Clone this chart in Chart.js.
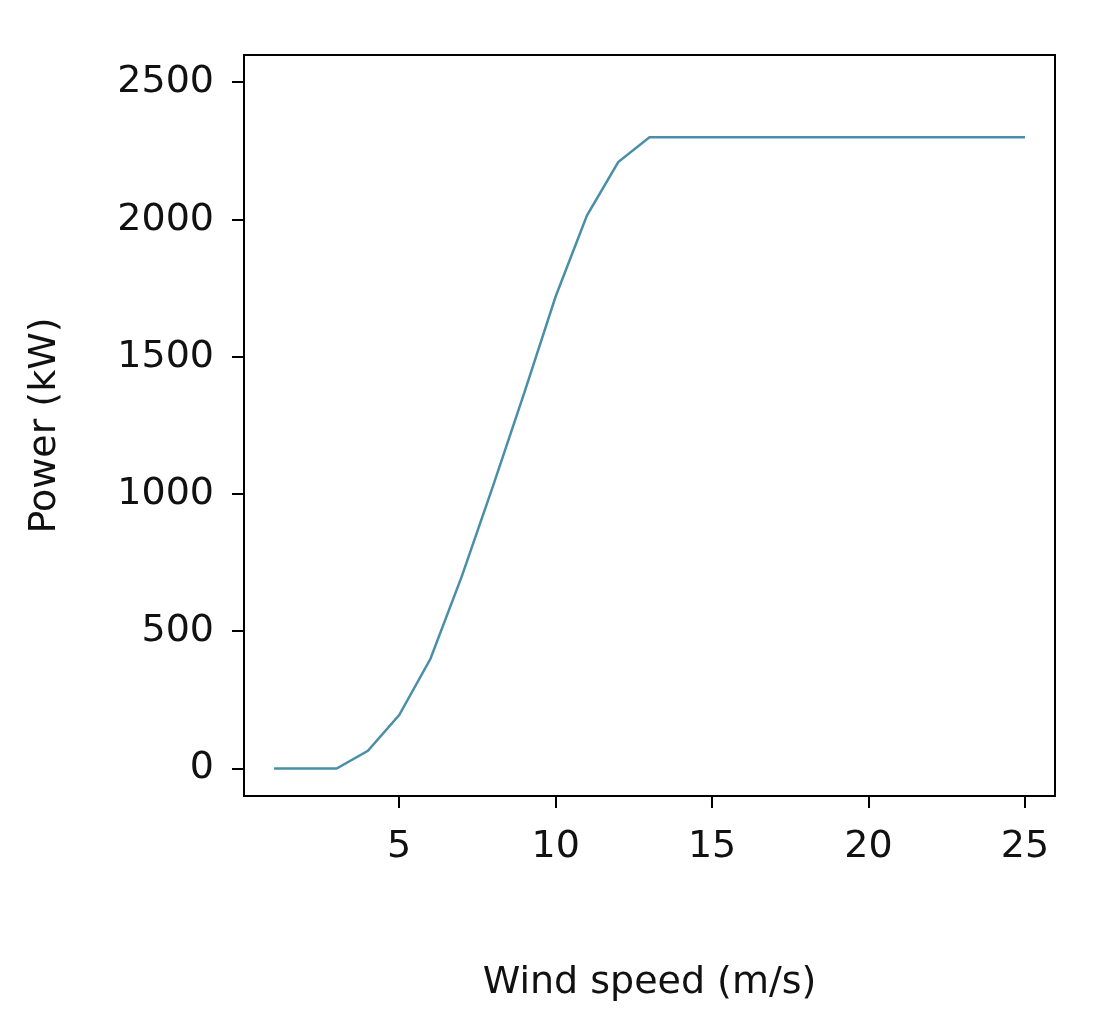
<!DOCTYPE html>
<html><head><meta charset="utf-8">
<script src="https://cdn.jsdelivr.net/npm/chart.js@4"></script>
<style>html,body{margin:0;padding:0;background:#fff}#wrap{width:1100px;height:1016px}</style>
</head><body><div id="wrap"><canvas id="c"></canvas></div>
<script>
const windSpeed = [1,2,3,4,5,6,7,8,9,10,11,12,13,14,15,16,17,18,19,20,21,22,23,24,25];
const powerKW = [0,0,0,65,195,400,700,1030,1370,1720,2015,2210,2300,2300,2300,2300,2300,2300,2300,2300,2300,2300,2300,2300,2300];
const xTicks = [5,10,15,20,25];
const yTicks = [0,500,1000,1500,2000,2500];
const xTitle = 'Wind speed (m/s)';
const yTitle = 'Power (kW)';

const font = {family:'DejaVu Sans, sans-serif', size:38};
const boxPlugin = {id:'box', afterDraw(ch){const a=ch.chartArea,c=ch.ctx;c.save();c.strokeStyle='#000';c.lineWidth=2;c.strokeRect(a.left,a.top,a.right-a.left,a.bottom-a.top);c.restore();}};
new Chart(document.getElementById('c'), {
  type:'line',
  data:{datasets:[{data:windSpeed.map((x,i)=>({x,y:powerKW[i]})),borderColor:'#4a8fa8',borderWidth:2.5,pointRadius:0,tension:0,fill:false}]},
  options:{
    responsive:true, maintainAspectRatio:false, animation:false,
    layout:{padding:{top:55,right:45,left:0,bottom:0}},
    plugins:{legend:{display:false},tooltip:{enabled:false}},
    scales:{
      x:{type:'linear',min:0.04,max:25.96,
        afterBuildTicks(s){s.ticks=xTicks.map(v=>({value:v}));},
        afterFit(s){s.height=220;},
        grid:{drawOnChartArea:false,drawTicks:true,tickLength:12,color:'#000',lineWidth:2},
        border:{display:false},
        ticks:{color:'#111',font,padding:16,maxRotation:0,callback:v=>String(v)},
        title:{display:true,text:xTitle,color:'#111',font,padding:{top:0,bottom:10}}},
      y:{type:'linear',min:-100,max:2600,
        afterBuildTicks(s){s.ticks=yTicks.map(v=>({value:v}));},
        afterFit(s){s.width=244;},
        grid:{drawOnChartArea:false,drawTicks:true,tickLength:12,color:'#000',lineWidth:2},
        border:{display:false},
        ticks:{color:'#111',font,padding:18,callback:v=>String(v)},
        title:{display:true,text:yTitle,color:'#111',font,padding:{top:22,bottom:0}}}
    }
  },
  plugins:[boxPlugin]
});
</script></body></html>
